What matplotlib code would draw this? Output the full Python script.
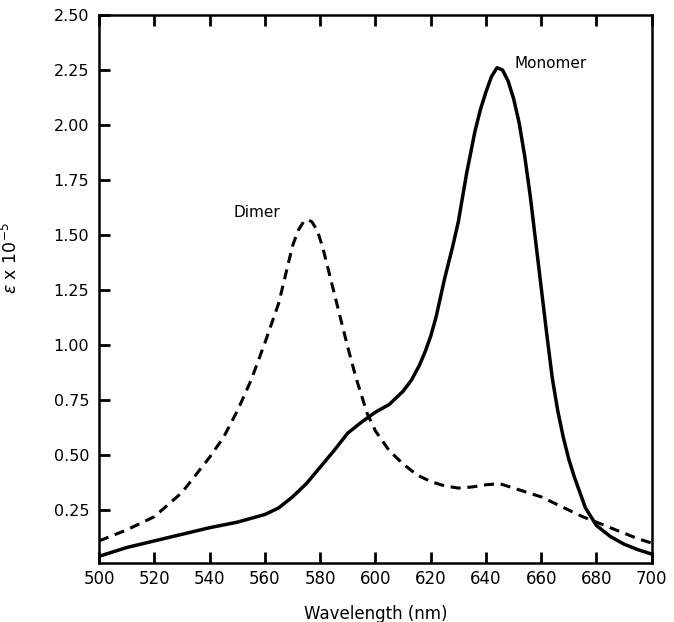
import matplotlib

matplotlib.use("Agg")
import matplotlib.pyplot as plt

# Absorption spectra (epsilon x 1e-5 against wavelength, nm)
mono_wl = [500, 510, 520, 530, 540, 550, 560, 565, 570, 575, 580, 585, 590, 595,
           600, 605, 610, 613, 616, 618, 620, 622, 625, 628, 630, 633, 636, 638,
           640, 642, 644, 646, 648, 650, 652, 654, 656, 658, 660, 662, 664, 666,
           668, 670, 672, 676, 680, 685, 690, 695, 700]
mono_eps = [0.04, 0.08, 0.11, 0.14, 0.17, 0.195, 0.23, 0.26, 0.31, 0.37, 0.445, 0.52,
            0.60, 0.65, 0.695, 0.73, 0.79, 0.84, 0.91, 0.97, 1.04, 1.13, 1.30, 1.45,
            1.56, 1.78, 1.97, 2.07, 2.15, 2.22, 2.26, 2.25, 2.20, 2.12, 2.01, 1.86,
            1.68, 1.47, 1.26, 1.05, 0.85, 0.70, 0.58, 0.48, 0.40, 0.26, 0.18, 0.13,
            0.095, 0.07, 0.05]

dimer_wl = [500, 510, 520, 530, 540, 545, 550, 555, 560, 565, 570, 572, 574, 575.5,
            577, 579, 581, 583, 587, 590, 593, 597, 600, 605, 610, 615, 620, 625,
            630, 635, 640, 645, 650, 655, 660, 665, 670, 675, 680, 685, 690, 695, 700]
dimer_eps = [0.11, 0.16, 0.22, 0.33, 0.49, 0.58, 0.70, 0.84, 1.01, 1.19, 1.45, 1.52,
             1.56, 1.57, 1.56, 1.52, 1.44, 1.34, 1.14, 0.99, 0.85, 0.69, 0.61, 0.52,
             0.46, 0.41, 0.38, 0.36, 0.35, 0.355, 0.365, 0.37, 0.35, 0.33, 0.31, 0.28,
             0.25, 0.22, 0.195, 0.17, 0.145, 0.12, 0.10]

x_ticks = list(range(500, 701, 20))
y_ticks = [0.25, 0.50, 0.75, 1.00, 1.25, 1.50, 1.75, 2.00, 2.25, 2.50]

plt.rcParams.update({
    "font.family": "DejaVu Sans",
    "font.size": 11,
})

fig = plt.figure(figsize=(6.74, 6.22), dpi=100)
ax = fig.add_axes([0.147, 0.095, 0.820, 0.881])

ax.plot(mono_wl, mono_eps, color="black", lw=2.5, solid_capstyle="round",
        solid_joinstyle="round")
ax.plot(dimer_wl, dimer_eps, color="black", lw=2.2, linestyle=(0, (3.3, 2.2)))

ax.text(650.5, 2.28, "Monomer", fontsize=11, va="center", ha="left")
ax.text(548.5, 1.60, "Dimer", fontsize=11, va="center", ha="left")

ax.set_xlim(500, 700)
ax.set_ylim(0.01, 2.5)
ax.set_xticks(x_ticks)
ax.set_yticks(y_ticks)
ax.set_yticklabels([f"{v:.2f}" for v in y_ticks])

ax.tick_params(axis="x", direction="in", length=8, width=2, top=True, pad=5,
               labelsize=12)
ax.tick_params(axis="y", direction="in", length=8, width=2, right=False, pad=7,
               labelsize=11.5)
for s in ax.spines.values():
    s.set_linewidth(1.8)

ax.set_xlabel("Wavelength (nm)", fontsize=12, labelpad=12)
ax.set_ylabel(r"$\epsilon$ x 10$^{-5}$", fontsize=12.5)
ax.yaxis.set_label_coords(-0.141, 0.557)

fig.savefig("out.png", dpi=100)
